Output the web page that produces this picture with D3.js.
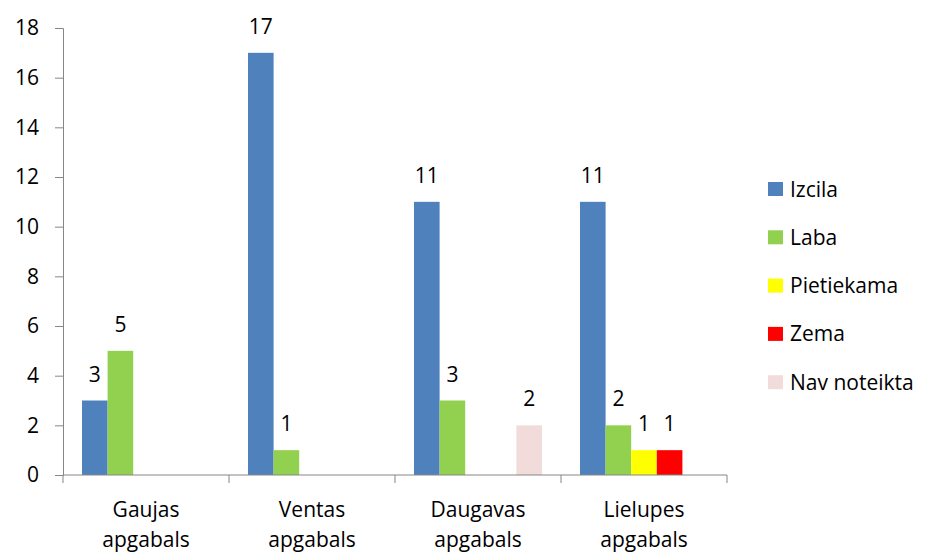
<!DOCTYPE html>
<html>
<head>
<meta charset="utf-8">
<title>Chart</title>
<script src="https://cdnjs.cloudflare.com/ajax/libs/d3/7.8.5/d3.min.js"></script>
<style>
  body { margin: 0; background: #fff; }
  text { font-family: "Open Sans", Lato, sans-serif; fill: #000; }
</style>
</head>
<body>
<div id="container"></div>
<script>
var categories = [["Gaujas", "apgabals"], ["Ventas", "apgabals"], ["Daugavas", "apgabals"], ["Lielupes", "apgabals"]];
var seriesNames = ["Izcila", "Laba", "Pietiekama", "Zema", "Nav noteikta"];
var seriesColors = ["#4F81BD", "#92D050", "#FFFF00", "#FF0000", "#F2DCDB"];
// rows = categories, columns = series (null = no bar)
var values = [
  [3, 5, null, null, null],
  [17, 1, null, null, null],
  [11, 3, null, null, 2],
  [11, 2, 1, 1, null]
];
var yTicks = [0, 2, 4, 6, 8, 10, 12, 14, 16, 18];

var width = 928, height = 554;
var mLeft = 63, mRight = 727, mTop = 28, mBottom = 475;
var fontSize = "21px";

var svg = d3.select("#container").append("svg").attr("width", width).attr("height", height);

var x0 = d3.scaleBand().domain(d3.range(categories.length)).range([mLeft, mRight]).padding(0);
var x1 = d3.scaleBand().domain(d3.range(seriesNames.length)).range([19, x0.bandwidth() - 19]).padding(0);
var y = d3.scaleLinear().domain([0, 18]).range([mBottom, mTop]);

// y axis
var yAxis = svg.append("g").attr("transform", "translate(" + mLeft + ",0)")
  .call(d3.axisLeft(y).tickValues(yTicks).tickSize(8).tickPadding(16));
yAxis.select(".domain").attr("stroke", "#868686");
yAxis.selectAll(".tick line").attr("stroke", "#868686");
yAxis.selectAll(".tick text").style("font-size", fontSize).attr("font-family", null);

// groups and bars
var group = svg.selectAll(".grp").data(values).enter().append("g")
  .attr("class", "grp")
  .attr("transform", function(d, i) { return "translate(" + x0(i) + ",0)"; });

var cells = group.selectAll(".bar")
  .data(function(d) { return d.map(function(v, j) { return {v: v, j: j}; }).filter(function(e) { return e.v !== null; }); })
  .enter();

cells.append("rect")
  .attr("x", function(d) { return x1(d.j); })
  .attr("width", x1.bandwidth())
  .attr("y", function(d) { return y(d.v); })
  .attr("height", function(d) { return y(0) - y(d.v); })
  .attr("fill", function(d) { return seriesColors[d.j]; });

cells.append("text")
  .attr("x", function(d) { return x1(d.j) + x1.bandwidth() / 2; })
  .attr("y", function(d) { return y(d.v) - 19; })
  .attr("text-anchor", "middle")
  .style("font-size", fontSize)
  .text(function(d) { return d.v; });

// x axis
var xAxis = svg.append("g").attr("transform", "translate(0," + mBottom + ")");
xAxis.append("line").attr("x1", mLeft).attr("x2", mRight).attr("stroke", "#868686");
xAxis.selectAll(".sep").data(d3.range(categories.length + 1)).enter().append("line")
  .attr("x1", function(i) { return mLeft + i * x0.bandwidth(); })
  .attr("x2", function(i) { return mLeft + i * x0.bandwidth(); })
  .attr("y1", 0).attr("y2", 8).attr("stroke", "#868686");

xAxis.selectAll(".cat").data(categories).enter().append("text")
  .attr("text-anchor", "middle")
  .style("font-size", fontSize)
  .attr("transform", function(d, i) { return "translate(" + (x0(i) + x0.bandwidth() / 2) + ",0)"; })
  .selectAll("tspan").data(function(d) { return d; }).enter().append("tspan")
  .attr("x", 0)
  .attr("y", function(d, k) { return 42 + k * 30; })
  .text(function(d) { return d; });

// legend
var legend = svg.append("g").attr("transform", "translate(768,182)");
var item = legend.selectAll(".item").data(seriesNames).enter().append("g")
  .attr("transform", function(d, i) { return "translate(0," + (i * 48.3) + ")"; });
item.append("rect").attr("width", 15).attr("height", 14).attr("fill", function(d, i) { return seriesColors[i]; });
item.append("text").attr("x", 22).attr("y", 14.5).style("font-size", fontSize).text(function(d) { return d; });
</script>
</body>
</html>
